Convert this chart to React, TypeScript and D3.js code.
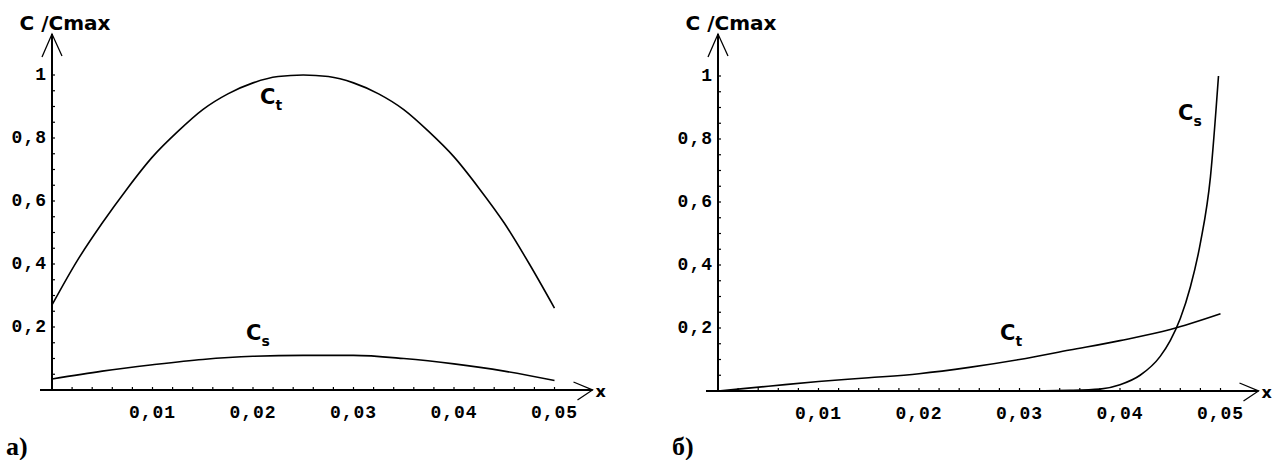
import React from "react";
import * as d3 from "d3";

// ---- data ----
const xTicks = [0.01, 0.02, 0.03, 0.04, 0.05];
const xTickLabels = ["0,01", "0,02", "0,03", "0,04", "0,05"];
const yTicks = [0.2, 0.4, 0.6, 0.8, 1];
const yTickLabels = ["0,2", "0,4", "0,6", "0,8", "1"];

// panel a)
const aCtX = [0, 0.0025, 0.005, 0.0075, 0.01, 0.0125, 0.015, 0.0175, 0.02, 0.0225, 0.025, 0.0275, 0.03, 0.0325, 0.035, 0.0375, 0.04, 0.0425, 0.045, 0.0475, 0.05];
const aCtY = [0.27, 0.41, 0.53, 0.64, 0.74, 0.82, 0.89, 0.94, 0.975, 0.995, 1.0, 0.995, 0.975, 0.94, 0.89, 0.82, 0.74, 0.64, 0.53, 0.4, 0.26];
const aCsX = [0, 0.005, 0.01, 0.015, 0.02, 0.025, 0.03, 0.035, 0.04, 0.045, 0.05];
const aCsY = [0.035, 0.06, 0.08, 0.097, 0.107, 0.11, 0.11, 0.1, 0.083, 0.06, 0.03];

// panel б)
const bCtX = [0, 0.005, 0.01, 0.015, 0.02, 0.025, 0.03, 0.035, 0.04, 0.045, 0.05];
const bCtY = [0.0, 0.015, 0.03, 0.042, 0.055, 0.075, 0.1, 0.13, 0.16, 0.195, 0.245];
const bCsX = [0, 0.01, 0.02, 0.03, 0.035, 0.038, 0.04, 0.042, 0.044, 0.045, 0.046, 0.047, 0.048, 0.049, 0.0498];
const bCsY = [0, 0, 0, 0, 0.002, 0.006, 0.02, 0.05, 0.11, 0.16, 0.23, 0.33, 0.47, 0.68, 1.0];

type Pt = [number, number];
const zip = (xs: number[], ys: number[]): Pt[] => xs.map((x, i) => [x, ys[i]]);

const tickFont = "'Liberation Mono', 'DejaVu Sans Mono', monospace";
const sansFont = "'DejaVu Sans', 'Liberation Sans', sans-serif";

function CLabel({ x, y, sub }: { x: number; y: number; sub: string }) {
  return (
    <text x={x} y={y} fontFamily={sansFont} fontWeight="bold" fontSize={21} fill="#000">
      C
      <tspan fontSize={14} dy={6}>{sub}</tspan>
    </text>
  );
}

function Panel({
  x0, yAxis, labelChar, labelX, curves, labels,
}: {
  x0: number;
  yAxis: number;
  labelChar: string;
  labelX: number;
  curves: Pt[][];
  labels: { x: number; y: number; sub: string }[];
}) {
  const xs = d3.scaleLinear().domain([0, 0.05]).range([x0, x0 + 502.5]);
  const ys = d3.scaleLinear().domain([0, 1]).range([yAxis, yAxis - 315]);
  const line = d3
    .line<Pt>()
    .x((d) => xs(d[0]))
    .y((d) => ys(d[1]))
    .curve(d3.curveMonotoneX);
  const minorX = d3.range(1, 26).map((i) => i * 0.002);
  const minorY = d3.range(1, 21).map((i) => i * 0.05);
  const tipY = 34;
  const tipX = xs(0.05) + 38;
  return (
    <g>
      {/* axes */}
      <line x1={xs(0) - 12} x2={tipX} y1={ys(0)} y2={ys(0)} stroke="#000" strokeWidth={2} />
      <line x1={xs(0)} x2={xs(0)} y1={ys(0)} y2={tipY} stroke="#000" strokeWidth={2} />
      {/* arrowheads */}
      <polyline
        points={`${xs(0) - 10},${tipY + 23} ${xs(0)},${tipY} ${xs(0) + 10},${tipY + 22}`}
        fill="none" stroke="#000" strokeWidth={1.3}
      />
      <polyline
        points={`${tipX - 19},${ys(0) - 8} ${tipX},${ys(0)} ${tipX - 15},${ys(0) + 10}`}
        fill="none" stroke="#000" strokeWidth={1.3}
      />
      {/* minor ticks */}
      {minorX.map((v, i) => (
        <line key={"mx" + i} x1={xs(v)} x2={xs(v)} y1={ys(0)} y2={ys(0) - 3} stroke="#000" strokeWidth={1.2} />
      ))}
      {minorY.map((v, i) => (
        <line key={"my" + i} x1={xs(0)} x2={xs(0) + 3} y1={ys(v)} y2={ys(v)} stroke="#000" strokeWidth={1.2} />
      ))}
      {/* tick labels */}
      {xTicks.map((v, i) => (
        <text key={"xt" + i} x={xs(v)} y={ys(0) + 28} textAnchor="middle" fontFamily={tickFont} fontSize={18} fontWeight="bold" letterSpacing={1} fill="#000">
          {xTickLabels[i]}
        </text>
      ))}
      {yTicks.map((v, i) => (
        <text key={"yt" + i} x={xs(0) - 5} y={ys(v) + 5} textAnchor="end" fontFamily={tickFont} fontSize={18} fontWeight="bold" letterSpacing={1} fill="#000">
          {yTickLabels[i]}
        </text>
      ))}
      {/* axis titles */}
      <text x={xs(0) + 13} y={30} textAnchor="middle" fontFamily={sansFont} fontWeight="bold" fontSize={20} fill="#000">
        C /Cmax
      </text>
      <text x={tipX + 3} y={ys(0) + 7} fontFamily={sansFont} fontWeight="bold" fontSize={16} fill="#000">
        x
      </text>
      {/* curves */}
      {curves.map((c, i) => (
        <path key={"c" + i} d={line(c) || ""} fill="none" stroke="#000" strokeWidth={1.6} />
      ))}
      {labels.map((l, i) => (
        <CLabel key={"l" + i} x={l.x} y={l.y} sub={l.sub} />
      ))}
      <text x={labelX} y={455} fontFamily="'Liberation Serif', 'DejaVu Serif', serif" fontWeight="bold" fontSize={26} fill="#000">
        {labelChar}
      </text>
    </g>
  );
}

export default function App() {
  return (
    <svg width={1275} height={460} style={{ position: "absolute", left: 0, top: 0, background: "#fff" }}>
      <rect x={0} y={0} width={1275} height={460} fill="#fff" />
      <Panel
        x0={52}
        yAxis={390}
        labelChar="а)"
        labelX={6}
        curves={[zip(aCtX, aCtY), zip(aCsX, aCsY)]}
        labels={[
          { x: 260, y: 104, sub: "t" },
          { x: 246, y: 340, sub: "s" },
        ]}
      />
      <Panel
        x0={718}
        yAxis={391}
        labelChar="б)"
        labelX={672}
        curves={[zip(bCtX, bCtY), zip(bCsX, bCsY)]}
        labels={[
          { x: 1000, y: 340, sub: "t" },
          { x: 1178, y: 120, sub: "s" },
        ]}
      />
    </svg>
  );
}
